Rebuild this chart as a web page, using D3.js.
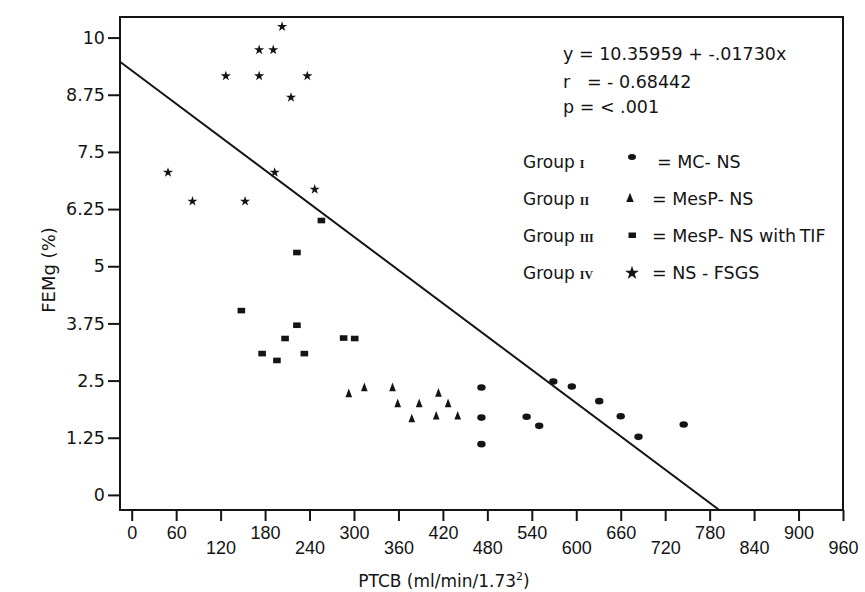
<!DOCTYPE html>
<html>
<head>
<meta charset="utf-8">
<script src="https://cdn.jsdelivr.net/npm/d3@7"></script>
<style>
  html, body { margin: 0; padding: 0; background: #ffffff; }
  svg { display: block; }
  text { fill: #141414; }
</style>
</head>
<body>
<svg id="chart" width="865" height="592"></svg>
<script>
// ---------- data ----------
const xTicks = [0, 60, 120, 180, 240, 300, 360, 420, 480, 540, 600, 660, 720, 780, 840, 900, 960];
const yTicks = [0, 1.25, 2.5, 3.75, 5, 6.25, 7.5, 8.75, 10];
const yTickLabels = ["0", "1.25", "2.5", "3.75", "5", "6.25", "7.5", "8.75", "10"];

// Group I  (MC-NS)  - circles
const g1x = [472, 472, 472, 533, 550, 569, 594, 631, 660, 684, 745];
const g1y = [2.35, 1.69, 1.11, 1.71, 1.51, 2.48, 2.37, 2.05, 1.72, 1.27, 1.54];
// Group II (MesP-NS) - triangles
const g2x = [293, 314, 352, 414, 359, 388, 427, 378, 411, 440];
const g2y = [2.20, 2.33, 2.33, 2.21, 1.98, 1.98, 1.98, 1.65, 1.71, 1.71];
// Group III (MesP-NS with TIF) - squares
const g3x = [256, 223, 148, 223, 207, 176, 196, 233, 286, 301];
const g3y = [6.00, 5.30, 4.03, 3.71, 3.42, 3.09, 2.94, 3.09, 3.43, 3.42];
// Group IV (NS-FSGS) - stars
const g4x = [203, 172, 191, 127, 172, 237, 215, 49, 193, 247, 82, 153];
const g4y = [10.24, 9.73, 9.73, 9.16, 9.16, 9.16, 8.69, 7.05, 7.05, 6.68, 6.42, 6.42];

// drawn regression line end points
const lineX = [-15.8, 793];
const lineY = [9.47, -0.33];

const statLines = ["y = 10.35959 + -.01730x", "r   = - 0.68442", "p = < .001"];
const groupNames = ["Group", "Group", "Group", "Group"];
const groupNumerals = ["I", "II", "III", "IV"];
const groupLabels = ["= MC- NS", "= MesP- NS", "= MesP- NS with\u2009TIF", "= NS - FSGS"];
const xTitle = "PTCB (ml/min/1.73";
const yTitle = "FEMg (%)";

// ---------- chart ----------
const svg = d3.select("#chart");
const x = d3.scaleLinear().domain([-15.8, 960]).range([120, 843]);
const y = d3.scaleLinear().domain([-0.33, 10.45]).range([510, 17]);

const ink = "#141414";
const sans = "'DejaVu Sans', sans-serif";

// frame
svg.append("rect")
  .attr("x", x.range()[0]).attr("y", y.range()[1])
  .attr("width", x.range()[1] - x.range()[0])
  .attr("height", y.range()[0] - y.range()[1])
  .attr("fill", "none").attr("stroke", ink).attr("stroke-width", 2);

// y axis
const yAxis = svg.append("g")
  .attr("transform", `translate(${x.range()[0]},0)`)
  .call(d3.axisLeft(y).tickValues(yTicks).tickSize(12).tickPadding(3)
    .tickFormat((d, i) => yTickLabels[i]));
yAxis.select(".domain").remove();
yAxis.selectAll(".tick line").attr("stroke", ink).attr("stroke-width", 2);
yAxis.selectAll(".tick text")
  .style("font-family", sans).style("font-size", "17.5px").attr("fill", ink);

// x axis
const xAxis = svg.append("g")
  .attr("transform", `translate(0,${y.range()[0]})`)
  .call(d3.axisBottom(x).tickValues(xTicks).tickSize(11).tickFormat(d3.format("d")));
xAxis.select(".domain").remove();
xAxis.selectAll(".tick line").attr("stroke", ink).attr("stroke-width", 2);
xAxis.selectAll(".tick text")
  .style("font-family", "'Liberation Sans', Arial, sans-serif")
  .style("font-size", "18px")
  .attr("fill", ink)
  .attr("dy", null)
  .attr("y", (d, i) => {
    const upper = (i < 2) || (i % 2 === 1);
    return upper ? 29 : 44;
  });

// regression line
svg.append("line")
  .attr("x1", x(lineX[0])).attr("y1", y(lineY[0]))
  .attr("x2", x(lineX[1])).attr("y2", y(lineY[1]))
  .attr("stroke", ink).attr("stroke-width", 2);

// markers
const marks = svg.append("g");
function zip(a, b) { return a.map((v, i) => [v, b[i]]); }

marks.selectAll("ellipse.g1").data(zip(g1x, g1y)).join("ellipse")
  .attr("cx", d => x(d[0])).attr("cy", d => y(d[1]))
  .attr("rx", 4.2).attr("ry", 3.3).attr("fill", ink);

const tri = d3.symbol().type(d3.symbolTriangle).size(30);
marks.selectAll("path.g2").data(zip(g2x, g2y)).join("path")
  .attr("d", tri)
  .attr("transform", d => `translate(${x(d[0])},${y(d[1])}) scale(0.8,1.2)`)
  .attr("fill", ink);

marks.selectAll("rect.g3").data(zip(g3x, g3y)).join("rect")
  .attr("x", d => x(d[0]) - 3.8).attr("y", d => y(d[1]) - 2.8)
  .attr("width", 7.6).attr("height", 5.6).attr("fill", ink);

const star = d3.symbol().type(d3.symbolStar).size(32);
marks.selectAll("path.g4").data(zip(g4x, g4y)).join("path")
  .attr("d", star)
  .attr("transform", d => `translate(${x(d[0])},${y(d[1])})`)
  .attr("fill", ink);

// stats text
svg.append("g").selectAll("text").data(statLines).join("text")
  .attr("x", 563)
  .attr("y", (d, i) => [60, 88, 113][i])
  .style("font-family", sans).style("font-size", "17.5px")
  .style("white-space", "pre")
  .text(d => d);

// legend
const leg = svg.append("g");
const rowY = (i) => 168 + i * 37;
groupNames.forEach((name, i) => {
  const t = leg.append("text").attr("x", 523).attr("y", rowY(i))
    .style("font-family", sans).style("font-size", "17px");
  t.append("tspan").text(name);
  t.append("tspan").attr("dx", 5)
    .style("font-family", "'Liberation Serif', 'DejaVu Serif', serif")
    .style("font-size", "12px").style("font-weight", "bold")
    .text(groupNumerals[i]);
  leg.append("text")
    .attr("x", i === 0 ? 657 : 652).attr("y", rowY(i))
    .style("font-family", sans).style("font-size", "17.5px")
    .text(groupLabels[i]);
});
// legend symbols
leg.append("ellipse").attr("cx", 632).attr("cy", rowY(0) - 11)
  .attr("rx", 4).attr("ry", 3).attr("fill", ink);
leg.append("path").attr("d", tri)
  .attr("transform", `translate(630,${rowY(1) - 6}) scale(0.9,1.3)`).attr("fill", ink);
leg.append("rect").attr("x", 628.5).attr("y", rowY(2) - 9.5)
  .attr("width", 7.5).attr("height", 5.5).attr("fill", ink);
leg.append("path").attr("d", d3.symbol().type(d3.symbolStar).size(60))
  .attr("transform", `translate(632,${rowY(3) - 6})`).attr("fill", ink);

// axis titles
const xt = svg.append("text")
  .attr("x", 444).attr("y", 587).attr("text-anchor", "middle")
  .style("font-family", sans).style("font-size", "17px");
xt.append("tspan").text(xTitle);
xt.append("tspan").attr("dy", -7).style("font-size", "11px").text("2");
xt.append("tspan").attr("dy", 7).text(")");

svg.append("text")
  .attr("transform", "translate(55,270) rotate(-90)")
  .attr("text-anchor", "middle")
  .style("font-family", sans).style("font-size", "18px")
  .text(yTitle);
</script>
</body>
</html>
